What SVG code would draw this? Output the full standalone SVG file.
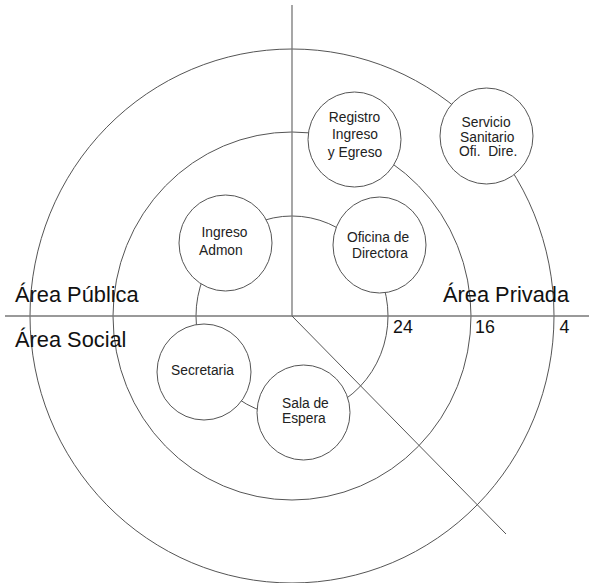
<svg xmlns="http://www.w3.org/2000/svg" width="589" height="583" viewBox="0 0 589 583">
<style>
.ring{fill:none;stroke:#555;stroke-width:1}
.axis{fill:none;stroke:#777;stroke-width:1.3}
.node{fill:#fff;stroke:#555;stroke-width:1}
.nt{font-family:"Liberation Sans",Arial,sans-serif;font-size:13.8px;fill:#222}
.big{font-family:"Liberation Sans",Arial,sans-serif;font-size:21.8px;fill:#111}
.num{font-family:"Liberation Sans",Arial,sans-serif;font-size:17.8px;fill:#111}
</style>
<rect width="589" height="583" fill="#fff"/>
<g id="connectors">
<ellipse class="ring" cx="292" cy="316" rx="262" ry="267"/>
<ellipse class="ring" cx="292" cy="316" rx="179" ry="184"/>
<ellipse class="ring" cx="292" cy="316" rx="96" ry="100"/>
<line class="axis" x1="292" y1="5" x2="292" y2="316"/>
<line class="axis" x1="5" y1="316" x2="589" y2="316"/>
<line class="ring" x1="292" y1="316" x2="506" y2="534"/>
</g>
<g id="ingreso-admon">
<ellipse class="node" cx="225.5" cy="243" rx="46.5" ry="48"/>
<text class="nt" x="201.5" y="237">Ingreso</text>
<text class="nt" x="199" y="254.5">Admon</text>
</g>
<g id="registro">
<ellipse class="node" cx="354.5" cy="139.5" rx="46.5" ry="47.5"/>
<text class="nt" x="354.5" y="121.7" text-anchor="middle">Registro</text>
<text class="nt" x="355" y="139.2" text-anchor="middle">Ingreso</text>
<text class="nt" x="355" y="156.7" text-anchor="middle">y Egreso</text>
</g>
<g id="servicio">
<ellipse class="node" cx="486.5" cy="136" rx="46.5" ry="48"/>
<text class="nt" x="461.5" y="127">Servicio</text>
<text class="nt" x="460" y="141.5">Sanitario</text>
<text class="nt" x="459" y="156" xml:space="preserve">Ofi.  Dire.</text>
</g>
<g id="oficina">
<ellipse class="node" cx="379.5" cy="245" rx="46.5" ry="48"/>
<text class="nt" x="378" y="242" text-anchor="middle">Oficina de</text>
<text class="nt" x="380" y="257.5" text-anchor="middle">Directora</text>
</g>
<g id="secretaria">
<ellipse class="node" cx="204" cy="372" rx="47" ry="48"/>
<text class="nt" x="202.5" y="374.7" text-anchor="middle">Secretaria</text>
</g>
<g id="sala">
<ellipse class="node" cx="303.5" cy="412.5" rx="46.5" ry="47.5"/>
<text class="nt" x="282" y="408">Sala de</text>
<text class="nt" x="282" y="422.5">Espera</text>
</g>
<g id="labels">
<text class="big" x="15" y="301.5">Área Pública</text>
<text class="big" x="15" y="346.5">Área Social</text>
<text class="big" x="443" y="301.5">Área Privada</text>
<text class="num" x="393" y="333">24</text>
<text class="num" x="475" y="333">16</text>
<text class="num" x="559.5" y="333">4</text>
</g>
</svg>
